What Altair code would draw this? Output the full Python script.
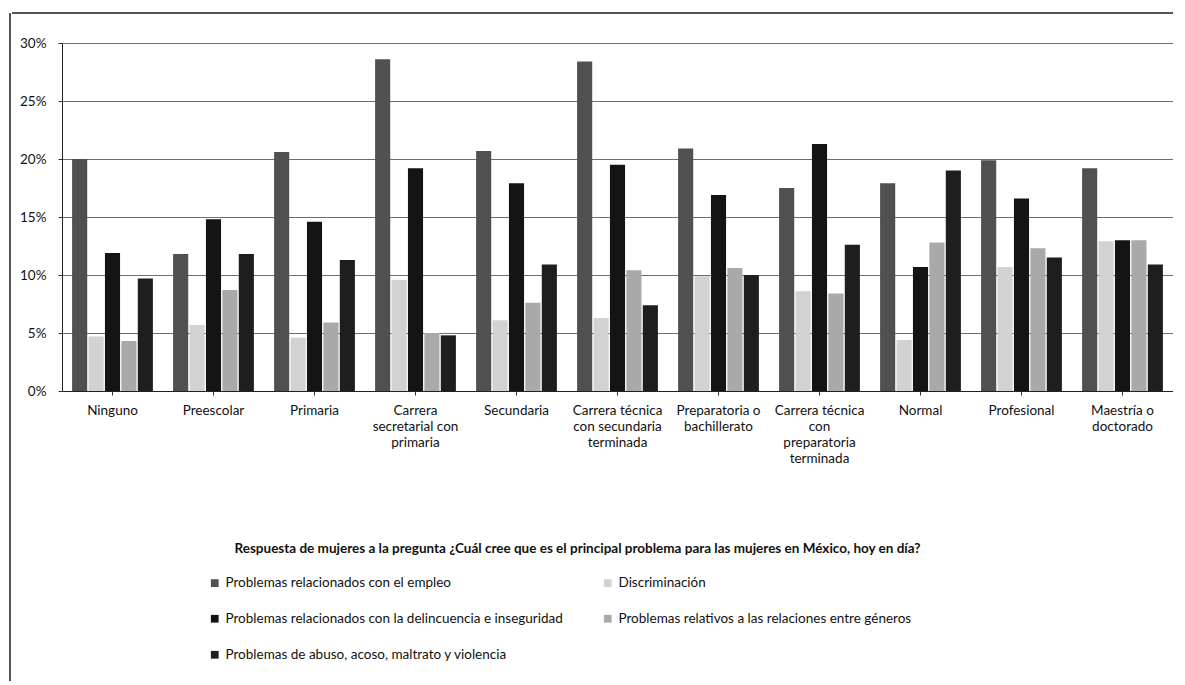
import altair as alt
import pandas as pd

categories = [
    "Ninguno", "Preescolar", "Primaria", "Carrera|secretarial con|primaria",
    "Secundaria", "Carrera técnica|con secundaria|terminada",
    "Preparatoria o|bachillerato", "Carrera técnica|con|preparatoria|terminada",
    "Normal", "Profesional", "Maestría o|doctorado",
]
series_names = [
    "Problemas relacionados con el empleo",
    "Discriminación",
    "Problemas relacionados con la delincuencia e inseguridad",
    "Problemas relativos a las relaciones entre géneros",
    "Problemas de abuso, acoso, maltrato y violencia",
]
empleo = [20.0, 11.8, 20.6, 28.6, 20.7, 28.4, 20.9, 17.5, 17.9, 19.9, 19.2]
discriminacion = [4.7, 5.7, 4.6, 9.6, 6.1, 6.3, 9.9, 8.6, 4.4, 10.7, 12.9]
delincuencia = [11.9, 14.8, 14.6, 19.2, 17.9, 19.5, 16.9, 21.3, 10.7, 16.6, 13.0]
relaciones = [4.3, 8.7, 5.9, 5.0, 7.6, 10.4, 10.6, 8.4, 12.8, 12.3, 13.0]
abuso = [9.7, 11.8, 11.3, 4.8, 10.9, 7.4, 10.0, 12.6, 19.0, 11.5, 10.9]
colors = ["#505050", "#d2d2d2", "#141414", "#a9a9a9", "#1e1e1e"]

rows = []
for s, vals in zip(series_names, [empleo, discriminacion, delincuencia, relaciones, abuso]):
    for c, v in zip(categories, vals):
        rows.append({"cat": c, "serie": s, "valor": v})
df = pd.DataFrame(rows)

FONT = "Lato"
TITLE = "Respuesta de mujeres a la pregunta ¿Cuál cree que es el principal problema para las mujeres en México, hoy en día?"

bars = alt.Chart(df).mark_bar().encode(
    x=alt.X("cat:N", sort=categories,
            scale=alt.Scale(paddingInner=0.2, paddingOuter=0.1),
            axis=alt.Axis(title=TITLE, labelAngle=0,
                          labelExpr="split(datum.label, '|')",
                          labelFontSize=13.5, labelColor="#111", labelFont=FONT,
                          labelPadding=8, labelLineHeight=16, labelBaseline="top",
                          ticks=True, tickSize=4, tickColor="#333",
                          domainColor="#222", grid=False,
                          titleFont=FONT, titleFontSize=13.5, titleFontWeight="bold",
                          titleColor="#111", titleX=515, titleY=161,
                          titleAnchor="start", titleAlign="center",
                          titleBaseline="alphabetic")),
    xOffset=alt.XOffset("serie:N", sort=series_names,
                        scale=alt.Scale(paddingInner=0.08, paddingOuter=0)),
    y=alt.Y("valor:Q", scale=alt.Scale(domain=[0, 30], nice=False),
            axis=alt.Axis(title=None, values=[0, 5, 10, 15, 20, 25, 30],
                          labelExpr="datum.value + '%'",
                          labelFontSize=13.5, labelColor="#111", labelFont=FONT,
                          labelPadding=12, tickSize=4, tickColor="#333",
                          domainColor="#222", gridColor="#6e6e6e",
                          gridWidth=1)),
    color=alt.Color("serie:N", sort=series_names,
                    scale=alt.Scale(domain=series_names, range=colors),
                    legend=alt.Legend(title=None, orient="none",
                                      direction="horizontal",
                                      legendX=146, legendY=533, columns=2,
                                      symbolType="square", symbolSize=60,
                                      symbolStrokeWidth=0,
                                      labelFont=FONT, labelFontSize=13.5,
                                      labelColor="#111", labelLimit=500,
                                      rowPadding=21, columnPadding=38)),
)

frame_top = alt.Chart(pd.DataFrame({"k": [0]})).mark_rule(
    color="#555", strokeWidth=2, clip=False
).encode(x=alt.value(-50), x2=alt.value(1120), y=alt.value(-30))
frame_left = alt.Chart(pd.DataFrame({"k": [0]})).mark_rule(
    color="#555", strokeWidth=2, clip=False
).encode(x=alt.value(-52), y=alt.value(-30), y2=alt.value(645))

chart = alt.layer(bars, frame_top, frame_left).properties(
    width=1111, height=348,
    autosize=alt.AutoSizeParams(type="none"),
    padding={"left": 54, "top": 35, "right": 0, "bottom": 290},
).configure_view(stroke=None).configure(background="white")

chart.save("out.html", embed_options={"renderer": "svg", "actions": False})
